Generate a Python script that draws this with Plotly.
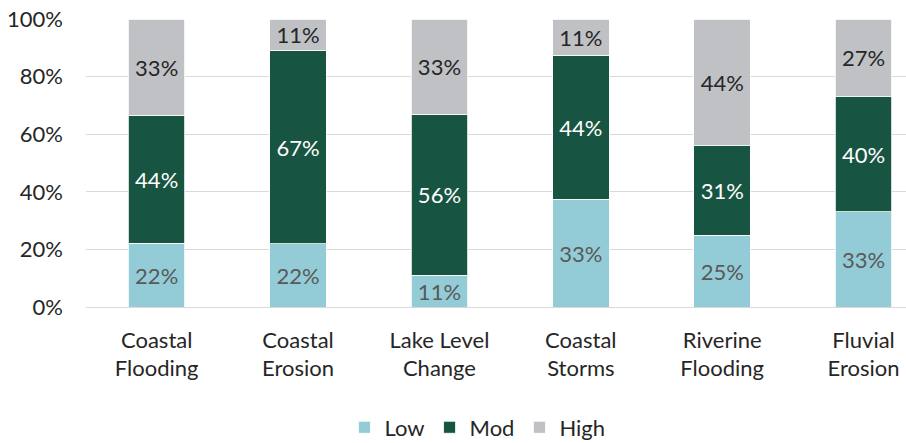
import plotly.graph_objects as go

categories = ["Coastal<br>Flooding", "Coastal<br>Erosion", "Lake Level<br>Change",
              "Coastal<br>Storms", "Riverine<br>Flooding", "Fluvial<br>Erosion"]
low = [22, 22, 11, 33, 25, 33]
mod = [44, 67, 56, 44, 31, 40]
high = [33, 11, 33, 11, 44, 27]
series_names = ["Low", "Mod", "High"]
colors = ["#93CCD7", "#185442", "#BFC1C4"]
text_colors = ["#595959", "#FFFFFF", "#262626"]
y_ticks = [0, 20, 40, 60, 80, 100]

FONT = "Lato"
fig = go.Figure()
for name, vals, col, tcol in zip(series_names, [low, mod, high], colors, text_colors):
    fig.add_trace(go.Bar(
        name=name, x=categories, y=vals,
        marker=dict(color=col, line=dict(color="#FFFFFF", width=0.8)),
        text=[f"{v}%" for v in vals], textposition="inside",
        insidetextanchor="middle", textangle=0, constraintext="none",
        textfont=dict(family=FONT, size=22, color=tcol),
        width=0.4,
    ))

fig.update_layout(
    barmode="stack", barnorm="percent",
    width=906, height=443,
    margin=dict(l=86, r=0, t=19, b=136),
    plot_bgcolor="white", paper_bgcolor="white",
    font=dict(family=FONT, size=22, color="#262626"),
    legend=dict(orientation="h", xref="container", yref="container",
                x=0.527, xanchor="center", y=0.035, yanchor="middle",
                font=dict(family=FONT, size=22, color="#262626"),
                traceorder="normal", itemwidth=30, entrywidth=0),
    showlegend=True,
)
fig.update_yaxes(range=[0, 100], tickvals=y_ticks, ticktext=[f"{t}%" for t in y_ticks],
                 showgrid=True, gridcolor="#D9D9D9", gridwidth=1.3, zeroline=False,
                 showline=False, ticks="", ticklabelstandoff=22,
                 tickfont=dict(family=FONT, size=22, color="#262626"))
fig.update_xaxes(range=[-0.5, 5.30], showgrid=False, showline=True, linecolor="#D9D9D9",
                 linewidth=1.3, ticks="", ticklabelstandoff=13,
                 tickfont=dict(family=FONT, size=22, color="#262626"))

fig.write_html("out.html")
